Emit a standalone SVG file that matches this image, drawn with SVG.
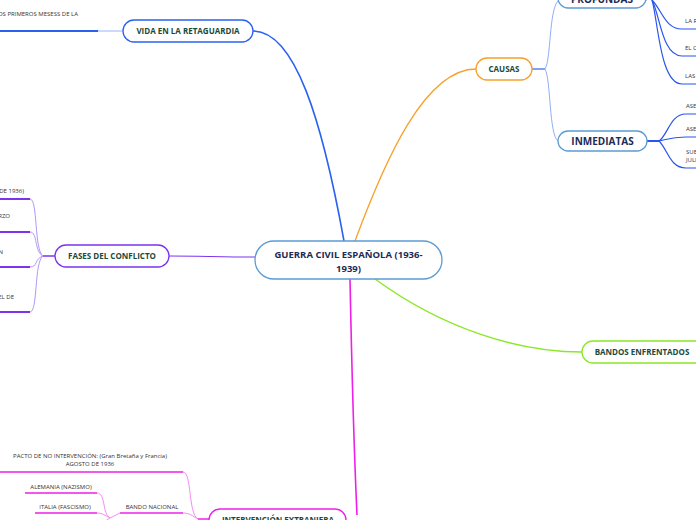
<svg xmlns="http://www.w3.org/2000/svg" width="696" height="520" viewBox="0 0 696 520">
<style>
.node{fill:#fff;stroke-width:1.3}
.t{font-family:"Open Sans","Noto Sans",sans-serif;font-weight:bold;fill:#1b4a3a;text-anchor:middle}
.tn{font-family:"Open Sans","Noto Sans",sans-serif;font-weight:bold;fill:#1c2b55;text-anchor:middle}
.s{font-family:"Open Sans","Noto Sans",sans-serif;font-size:6px;fill:#333}
.c{fill:none}
</style>
<rect width="696" height="520" fill="#fff"/>
<g id="connectors">
  <path class="c" d="M253,31 C295,31 322,120 344,241" stroke="#2a62f0" stroke-width="1.6"/>
  <path class="c" d="M355,241 C385,160 425,69 476,69" stroke="#f7a12a" stroke-width="1.3"/>
  <path class="c" d="M375,279 C445,330 520,352 582,352" stroke="#8ae826" stroke-width="1.4"/>
  <path class="c" d="M350,279 C352,380 354,450 357,515" stroke="#ee1fe8" stroke-width="1.6"/>
  <path class="c" d="M255,257 C220,257 200,256 169,256" stroke="#7b33f0" stroke-width="1.2"/>
  <!-- VIDA child -->
  <path class="c" d="M123,31 L98,31" stroke="#a9c2fa" stroke-width="1.2"/>
  <path class="c" d="M98,31 L0,31" stroke="#2a62f0" stroke-width="2"/>
  <!-- CAUSAS children -->
  <path class="c" d="M532,69 L545,69" stroke="#2a62f0" stroke-width="1.2"/>
  <path class="c" d="M545,69 C551,60 549,10 558,1" stroke="#8fb0f5" stroke-width="1"/>
  <path class="c" d="M545,69 C551,80 549,135 558,141" stroke="#8fb0f5" stroke-width="1"/>
  <!-- PROFUNDAS children -->
  <path class="c" d="M646,0 C660,-8 660,-20 682,-25" stroke="#2a55ee" stroke-width="1.2"/>
  <path class="c" d="M652,0 C662,10 665,29 682,29 L696,29" stroke="#2a55ee" stroke-width="1.2"/>
  <path class="c" d="M652,0 C660,15 662,56 682,56 L696,56" stroke="#2a55ee" stroke-width="1.2"/>
  <path class="c" d="M652,0 C658,20 660,84 682,84 L696,84" stroke="#2a55ee" stroke-width="1.2"/>
  <!-- INMEDIATAS children -->
  <path class="c" d="M647,141 L659,141" stroke="#2a55ee" stroke-width="2"/>
  <path class="c" d="M659,141 C668,135 670,114 686,114 L696,114" stroke="#2a55ee" stroke-width="1.2"/>
  <path class="c" d="M659,141 C668,139 672,137 686,137 L696,137" stroke="#2a55ee" stroke-width="1.2"/>
  <path class="c" d="M659,141 C668,150 670,168 686,168 L696,168" stroke="#2a55ee" stroke-width="1.2"/>
  <!-- FASES children -->
  <path class="c" d="M55,256 L43,256" stroke="#7b33f0" stroke-width="1.5"/>
  <path class="c" d="M43,256 C34,250 38,199 30,199" stroke="#b596f5" stroke-width="1"/>
  <path class="c" d="M43,256 C34,252 38,232 30,232" stroke="#b596f5" stroke-width="1"/>
  <path class="c" d="M43,256 C34,259 38,267 30,267" stroke="#b596f5" stroke-width="1"/>
  <path class="c" d="M43,256 C34,262 38,312 30,312" stroke="#b596f5" stroke-width="1"/>
  <path class="c" d="M30,199 L0,199 M30,232 L0,232 M30,267 L0,267 M30,312 L0,312" stroke="#7b33f0" stroke-width="1.8"/>
  <!-- INTERVENCION children -->
  <path class="c" d="M209,519 L198,519" stroke="#ee1fe8" stroke-width="1.5"/>
  <path class="c" d="M198,519 C188,514 192,472 183,472" stroke="#f48cf0" stroke-width="1"/>
  <path class="c" d="M198,519 C192,516 190,513 183,513" stroke="#f48cf0" stroke-width="1"/>
  <path class="c" d="M183,472 L0,472" stroke="#ee1fe8" stroke-width="1.6"/>
  <path class="c" d="M183,513 L120,513" stroke="#ee1fe8" stroke-width="1.6"/>
  <path class="c" d="M120,513 L110,518" stroke="#f48cf0" stroke-width="1"/>
  <path class="c" d="M110,518 C102,514 106,493 97,493" stroke="#f48cf0" stroke-width="1"/>
  <path class="c" d="M110,518 C104,515 103,513 97,513" stroke="#f48cf0" stroke-width="1"/>
  <path class="c" d="M110,518 C104,521 103,525 97,527" stroke="#f48cf0" stroke-width="1"/>
  <path class="c" d="M97,493 L25,493 M97,513 L35,513" stroke="#ee1fe8" stroke-width="1.6"/>
</g>
<g id="central">
  <rect class="node" x="255" y="241" width="187" height="38" rx="19" stroke="#5b9bd5"/>
  <text class="tn" x="348.5" y="258" font-size="9.5">GUERRA CIVIL ESPAÑOLA (1936-</text>
  <text class="tn" x="348.5" y="272" font-size="9.5">1939)</text>
</g>
<g id="vida">
  <rect class="node" x="123" y="20" width="130" height="22" rx="11" stroke="#2a62f0"/>
  <text class="t" x="188" y="34" font-size="8">VIDA EN LA RETAGUARDIA</text>
</g>
<g id="vida-child">
  <text class="s" x="78" y="16" text-anchor="end">LOS PRIMEROS MESESS DE LA</text>
</g>
<g id="causas">
  <rect class="node" x="476" y="58" width="56" height="22" rx="11" stroke="#f7a12a"/>
  <text class="t" x="504" y="72" font-size="8">CAUSAS</text>
</g>
<g id="profundas">
  <rect class="node" x="558" y="-12" width="88" height="20" rx="10" stroke="#5b9bd5"/>
  <text class="tn" x="602" y="3" font-size="10">PROFUNDAS</text>
</g>
<g id="profundas-children">
  <text class="s" x="685" y="23">LA R</text>
  <text class="s" x="685" y="50">EL C</text>
  <text class="s" x="685" y="78">LAS</text>
</g>
<g id="inmediatas">
  <rect class="node" x="558" y="131" width="89" height="20" rx="10" stroke="#5b9bd5"/>
  <text class="tn" x="602.5" y="145" font-size="10">INMEDIATAS</text>
</g>
<g id="inmediatas-children">
  <text class="s" x="686" y="108">ASE</text>
  <text class="s" x="686" y="131">ASE</text>
  <text class="s" x="686" y="154">SUB</text>
  <text class="s" x="686" y="162">JULI</text>
</g>
<g id="fases">
  <rect class="node" x="55" y="245" width="114" height="22" rx="11" stroke="#7b33f0"/>
  <text class="t" x="112" y="259" font-size="8">FASES DEL CONFLICTO</text>
</g>
<g id="fases-children">
  <text class="s" x="24" y="193" text-anchor="end">DE 1936)</text>
  <text class="s" x="10" y="218" text-anchor="end">RZO</text>
  <text class="s" x="3" y="254" text-anchor="end">N</text>
  <text class="s" x="14" y="299" text-anchor="end">EL DE</text>
</g>
<g id="bandos">
  <rect class="node" x="582" y="341" width="130" height="22" rx="11" stroke="#8ae826"/>
  <text class="t" x="642" y="355" font-size="8">BANDOS ENFRENTADOS</text>
</g>
<g id="intervencion">
  <rect class="node" x="209" y="509" width="137" height="24" rx="11" stroke="#ee1fe8"/>
  <text class="t" x="278" y="523" font-size="8">INTERVENCIÓN EXTRANJERA</text>
</g>
<g id="pacto">
  <text class="s" x="90" y="458" text-anchor="middle">PACTO DE NO INTERVENCIÓN: (Gran Bretaña y Francia)</text>
  <text class="s" x="90" y="466" text-anchor="middle">AGOSTO DE 1936</text>
</g>
<g id="bando-nacional">
  <text class="s" x="152" y="509" text-anchor="middle">BANDO NACIONAL</text>
</g>
<g id="alemania">
  <text class="s" x="61" y="489" text-anchor="middle">ALEMANIA (NAZISMO)</text>
</g>
<g id="italia">
  <text class="s" x="65" y="509" text-anchor="middle">ITALIA (FASCISMO)</text>
</g>
</svg>
